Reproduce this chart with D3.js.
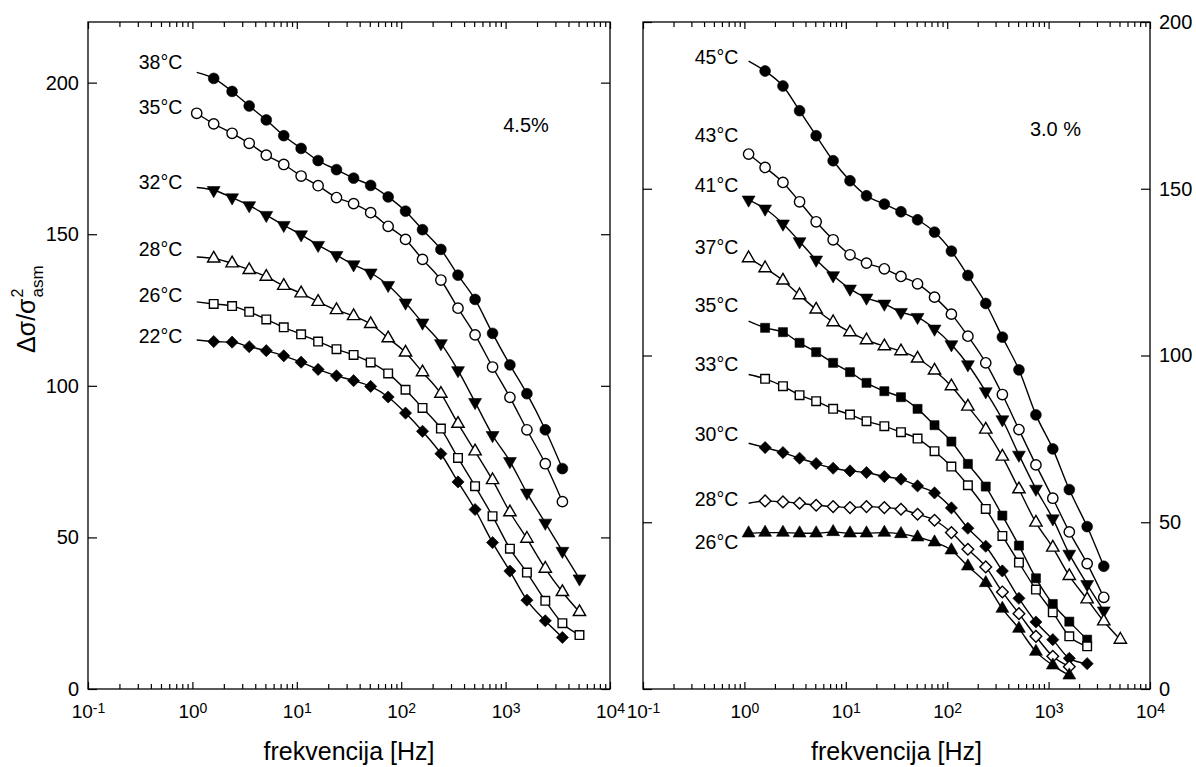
<!DOCTYPE html>
<html lang="hr">
<head>
<meta charset="UTF-8">
<title>Δσ/σ² asm - frekvencija</title>
<script src="https://cdn.jsdelivr.net/npm/d3@7"></script>
<style>
  body { margin: 0; background: #fff; }
  svg text { font-family: "Liberation Sans", Arial, sans-serif; fill: #000; }
</style>
</head>
<body>
<svg id="chart" width="1196" height="767"></svg>
<script>
// measurement frequencies in Hz (same grid for every curve)
var freqs = [1.1, 1.6, 2.4, 3.5, 5.1, 7.5, 11, 16, 24, 35, 51, 75, 110, 160, 240, 350, 510, 750, 1100, 1600, 2400, 3500, 5100];
var decades = [0.1, 1, 10, 100, 1000, 10000];
var decadeExp = ["-1", "0", "1", "2", "3", "4"];
var yTicks = [0, 50, 100, 150, 200];

// left panel - 4.5%
var leftTemps = ["38°C", "35°C", "32°C", "28°C", "26°C", "22°C"];
var leftSymbols = ["circle", "circleOpen", "triangleDown", "triangleOpen", "squareOpen", "diamond"];
var leftFirstMarker = [1, 0, 1, 1, 1, 1];
var leftLabelY = [206.8, 191.8, 167.2, 145.2, 129.8, 116.3];
var left38 = [203.4, 201.4, 197.1, 192.3, 187.7, 182.5, 178.3, 174.3, 171.3, 168.5, 166.1, 162.3, 157.6, 151.5, 145.0, 136.5, 128.5, 117.3, 106.9, 97.4, 85.5, 72.7, null];
var left35 = [189.9, 186.4, 183.3, 180.0, 176.1, 173.0, 169.2, 166.0, 162.1, 160.1, 157.1, 152.6, 148.3, 141.7, 134.9, 125.6, 116.8, 106.2, 96.2, 85.5, 74.3, 61.8, null];
var left32 = [165.4, 164.5, 162.1, 159.5, 156.3, 153.0, 149.9, 146.4, 143.1, 140.0, 137.3, 133.2, 127.4, 120.8, 114.0, 105.1, 94.6, 83.7, 75.1, 64.7, 54.8, 45.5, 36.4];
var left28 = [142.5, 142.0, 140.4, 138.2, 136.0, 133.0, 130.5, 127.7, 125.0, 123.0, 120.4, 115.7, 111.0, 104.5, 97.4, 87.5, 78.4, 68.9, 58.3, 49.6, 39.7, 32.0, 25.4];
var left26 = [127.7, 127.0, 126.3, 124.4, 121.9, 119.3, 117.0, 114.6, 112.1, 110.2, 107.7, 104.1, 98.7, 92.7, 85.9, 76.2, 66.9, 57.0, 46.3, 38.4, 29.1, 21.7, 17.8];
var left22 = [115.1, 114.6, 114.4, 112.9, 111.6, 109.9, 107.8, 105.4, 103.3, 101.7, 99.8, 96.3, 91.0, 85.0, 77.6, 68.3, 59.2, 48.3, 38.9, 29.3, 22.5, 17.0, null];

// right panel - 3.0 %
var rightTemps = ["45°C", "43°C", "41°C", "37°C", "35°C", "33°C", "30°C", "28°C", "26°C"];
var rightSymbols = ["circle", "circleOpen", "triangleDown", "triangleOpen", "square", "squareOpen", "diamond", "diamondOpen", "triangle"];
var rightFirstMarker = [1, 0, 0, 0, 1, 1, 1, 1, 0];
var rightLabelY = [189.5, 166.2, 151.2, 132.6, 115.0, 97.3, 76.3, 56.9, 44.0];
var right45 = [188.3, 185.3, 180.8, 173.4, 165.9, 158.4, 152.4, 147.9, 145.4, 143.1, 140.7, 137.0, 131.3, 124.0, 115.6, 105.5, 95.7, 82.2, 72.0, 59.8, 48.7, 36.8, null];
var right43 = [160.4, 156.4, 151.9, 146.1, 140.1, 134.7, 130.2, 127.7, 126.0, 123.7, 121.5, 117.5, 112.4, 105.8, 97.8, 88.3, 77.8, 67.2, 57.2, 47.1, 37.6, 27.5, null];
var right41 = [146.7, 144.0, 139.5, 134.2, 128.7, 124.0, 120.0, 117.3, 115.5, 113.0, 111.5, 108.0, 103.3, 97.3, 89.2, 80.8, 70.2, 60.0, 51.1, 40.5, 31.4, 23.5, null];
var right37 = [129.2, 126.2, 122.5, 118.1, 113.8, 110.0, 107.0, 104.6, 102.8, 101.3, 99.1, 95.5, 90.8, 84.7, 77.8, 69.7, 59.9, 49.9, 42.4, 33.9, 26.9, 20.3, 14.8];
var right35 = [110.3, 108.3, 107.0, 103.8, 101.0, 97.8, 95.0, 91.8, 89.3, 87.5, 84.0, 79.1, 74.2, 67.5, 60.7, 52.0, 43.0, 33.2, 25.5, 20.2, 14.8, null, null];
var right33 = [94.3, 93.0, 90.8, 88.1, 86.3, 84.0, 82.3, 80.3, 78.8, 77.0, 75.1, 71.3, 66.7, 61.1, 54.0, 45.9, 37.9, 29.8, 23.0, 15.8, 12.8, null, null];
var right30 = [73.7, 72.4, 70.9, 69.2, 67.6, 66.2, 65.4, 64.9, 63.7, 62.9, 60.9, 58.8, 54.3, 48.2, 42.8, 35.4, 27.2, 20.1, 14.8, 9.2, 7.6, null, null];
var right28 = [55.7, 56.4, 56.1, 55.7, 55.1, 54.7, 54.4, 54.7, 54.4, 53.9, 52.4, 50.6, 46.9, 41.9, 36.6, 29.1, 22.6, 15.8, 9.8, 6.7, null, null, null];
var right26 = [46.7, 46.9, 46.9, 46.7, 46.7, 47.1, 46.7, 46.7, 46.9, 46.5, 45.5, 44.0, 41.6, 36.8, 31.8, 24.1, 18.1, 11.2, 7.1, 4.1, null, null, null];

var svg = d3.select("#chart");
var plotTop = 22, plotBottom = 689;

var symbolStyle = {
  circle:       { type: d3.symbolCircle,   size: 92, fill: true,  rot: 0 },
  circleOpen:   { type: d3.symbolCircle,   size: 84, fill: false, rot: 0 },
  triangleDown: { type: d3.symbolTriangle, size: 72, fill: true,  rot: 180 },
  triangle:     { type: d3.symbolTriangle, size: 72, fill: true,  rot: 0 },
  triangleOpen: { type: d3.symbolTriangle, size: 66, fill: false, rot: 0 },
  square:       { type: d3.symbolSquare,   size: 82, fill: true,  rot: 0 },
  squareOpen:   { type: d3.symbolSquare,   size: 74, fill: false, rot: 0 },
  diamond:      { type: d3.symbolSquare,   size: 74, fill: true,  rot: 45 },
  diamondOpen:  { type: d3.symbolSquare,   size: 68, fill: false, rot: 45 }
};

var panels = [
  {
    x0: 88, x1: 610, yMax: 220, labelSide: "left",
    temps: leftTemps, symbols: leftSymbols, firstMarker: leftFirstMarker, labelY: leftLabelY,
    values: [left38, left35, left32, left28, left26, left22],
    labelFreq: 0.8, note: "4.5%", noteFreq: 1570, noteY: 186
  },
  {
    x0: 643, x1: 1150, yMax: 200, labelSide: "right",
    temps: rightTemps, symbols: rightSymbols, firstMarker: rightFirstMarker, labelY: rightLabelY,
    values: [right45, right43, right41, right37, right35, right33, right30, right28, right26],
    labelFreq: 0.87, note: "3.0 %", noteFreq: 1170, noteY: 168
  }
];

var minorTicks = [];
decades.slice(0, -1).forEach(function(d) {
  for (var m = 2; m < 10; m++) minorTicks.push(d * m);
});

function styleAxis(g) {
  g.select(".domain").remove();
  g.selectAll(".tick line").attr("stroke", "#000").attr("stroke-width", 1.2);
  g.attr("font-family", null);
}

panels.forEach(function(p) {
  var x = d3.scaleLog().domain([0.1, 10000]).range([p.x0, p.x1]);
  var y = d3.scaleLinear().domain([0, p.yMax]).range([plotBottom, plotTop]);
  var g = svg.append("g");

  // x axes, ticks pointing inwards
  g.append("g").attr("transform", "translate(0," + plotBottom + ")")
    .call(d3.axisBottom(x).tickValues(minorTicks).tickSize(-5).tickFormat(""))
    .call(styleAxis);
  g.append("g").attr("transform", "translate(0," + plotTop + ")")
    .call(d3.axisTop(x).tickValues(minorTicks).tickSize(-5).tickFormat(""))
    .call(styleAxis);
  g.append("g").attr("transform", "translate(0," + plotTop + ")")
    .call(d3.axisTop(x).tickValues(decades).tickSize(-7).tickFormat(""))
    .call(styleAxis);
  var xb = g.append("g").attr("transform", "translate(0," + plotBottom + ")")
    .call(d3.axisBottom(x).tickValues(decades).tickSize(-7).tickPadding(15.5).tickFormat(""))
    .call(styleAxis)
    .attr("font-size", 19);
  xb.selectAll(".tick text").each(function(d, i) {
    var t = d3.select(this);
    t.append("tspan").text("10");
    t.append("tspan").attr("dy", -5).attr("font-size", 14).text(decadeExp[i]);
  });

  // y axes
  g.append("g").attr("transform", "translate(" + p.x0 + ",0)")
    .call(d3.axisLeft(y).tickValues(yTicks).tickSize(-9).tickPadding(9)
      .tickFormat(p.labelSide === "left" ? d3.format("d") : ""))
    .call(styleAxis).attr("font-size", 20);
  g.append("g").attr("transform", "translate(" + p.x1 + ",0)")
    .call(d3.axisRight(y).tickValues(yTicks).tickSize(-9).tickPadding(9)
      .tickFormat(p.labelSide === "right" ? d3.format("d") : ""))
    .call(styleAxis).attr("font-size", 20);

  // frame
  g.append("rect")
    .attr("x", p.x0).attr("y", plotTop)
    .attr("width", p.x1 - p.x0).attr("height", plotBottom - plotTop)
    .attr("fill", "none").attr("stroke", "#000").attr("stroke-width", 1.3);

  var line = d3.line()
    .defined(function(d) { return d.v != null; })
    .x(function(d) { return x(d.f); })
    .y(function(d) { return y(d.v); })
    .curve(d3.curveMonotoneX);

  p.values.forEach(function(vals, k) {
    var pts = vals.map(function(v, i) { return { f: freqs[i], v: v, i: i }; });
    g.append("path").datum(pts)
      .attr("d", line)
      .attr("fill", "none").attr("stroke", "#000").attr("stroke-width", 1.4);

    var st = symbolStyle[p.symbols[k]];
    var sym = d3.symbol().type(st.type).size(st.size);
    g.append("g").selectAll("path")
      .data(pts.filter(function(d) { return d.v != null && d.i >= p.firstMarker[k]; }))
      .join("path")
      .attr("d", sym)
      .attr("transform", function(d) {
        return "translate(" + x(d.f) + "," + y(d.v) + ") rotate(" + st.rot + ")";
      })
      .attr("fill", st.fill ? "#000" : "#fff")
      .attr("stroke", "#000").attr("stroke-width", st.fill ? 0.6 : 1.4);

    g.append("text")
      .attr("x", x(p.labelFreq)).attr("y", y(p.labelY[k]))
      .attr("dy", "0.35em").attr("text-anchor", "end")
      .attr("font-size", 19.5)
      .text(p.temps[k]);
  });

  g.append("text")
    .attr("x", x(p.noteFreq)).attr("y", y(p.noteY))
    .attr("dy", "0.35em").attr("text-anchor", "middle")
    .attr("font-size", 20)
    .text(p.note);

  g.append("text")
    .attr("x", (p.x0 + p.x1) / 2).attr("y", 760)
    .attr("text-anchor", "middle").attr("font-size", 25)
    .text("frekvencija [Hz]");
});

// y axis title: Δσ/σ²asm
var yt = svg.append("g").attr("transform", "translate(35,353) rotate(-90)");
var main = yt.append("text").attr("font-size", 25).text("Δσ/σ");
var w = main.node().getComputedTextLength();
yt.append("text").attr("x", w + 1).attr("y", -12).attr("font-size", 16).text("2");
yt.append("text").attr("x", w + 1).attr("y", 8).attr("font-size", 17).text("asm");
</script>
</body>
</html>
